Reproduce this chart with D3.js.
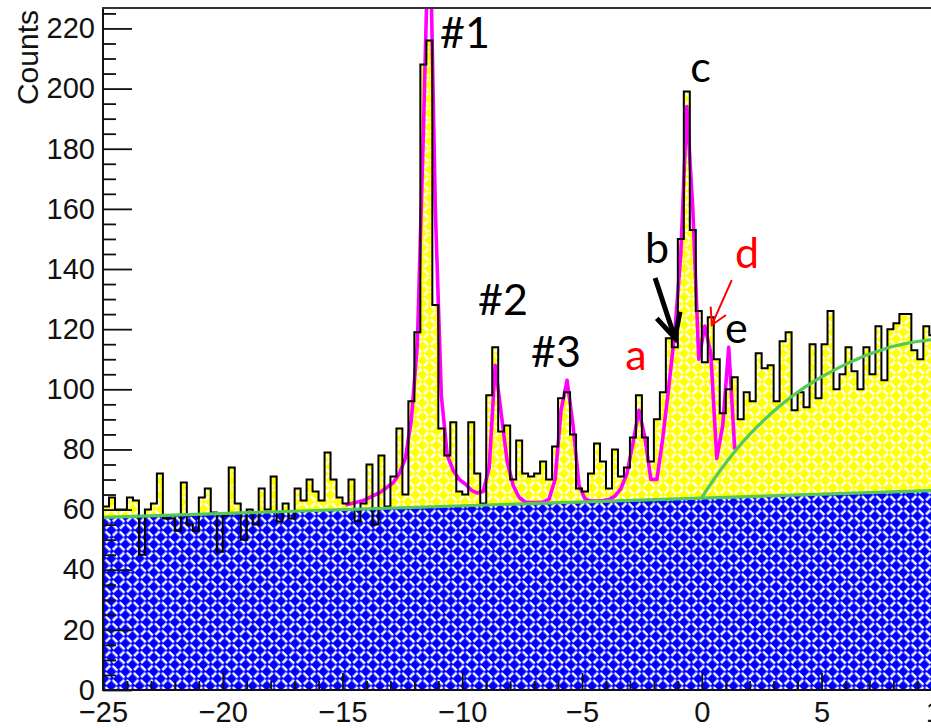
<!DOCTYPE html>
<html>
<head>
<meta charset="utf-8">
<script src="https://cdn.jsdelivr.net/npm/d3@7"></script>
<style>
  html, body { margin: 0; padding: 0; background: #fff; overflow: hidden; }
  svg { display: block; }
</style>
</head>
<body>
<svg id="chart" width="931" height="728"></svg>
<script>
// ---- Histogram binning ----
const xMin = -25, xMax = 10, binWidth = 0.25;
const yTop = 226.8;

// Counts per bin (140 bins of 0.25)
const counts = [
  61, 64, 60, 60, 64, 63, 45, 60, 62, 72,
  57, 57, 53, 69, 55, 53, 64, 67, 59, 46,
  58, 74, 62, 50, 60, 55, 67, 60, 71, 56,
  62, 57, 67, 63, 70, 66, 63, 79, 70, 64,
  62, 70, 56, 62, 75, 55, 78, 61, 71, 87,
  65, 96, 119, 208, 216, 128, 87, 78, 89, 66,
  65, 89, 72, 62, 98, 114, 86, 88, 70, 83,
  72, 71, 72, 76, 70, 81, 97, 99, 85, 67,
  66, 72, 82, 76, 67, 80, 71, 74, 84, 98,
  84, 76, 90, 99, 117, 114, 150, 199, 153, 126,
  109, 124, 110, 92, 100, 104, 90, 99, 96, 112,
  107, 108, 96, 116, 119, 93, 99, 94, 115, 97,
  115, 126, 100, 105, 114, 106, 100, 114, 105, 121,
  103, 120, 122, 125, 125, 113, 110, 121, 118, 115
];

// Total peak fit, evaluated at bin centres starting from bin fitFirstBin
const fitFirstBin = 40;
const fitValues = [
  61.5, 62, 62.5, 63, 64, 65, 66, 67.5, 69, 72,
  77, 90, 115, 185, 265, 160, 98, 78, 73, 70,
  68.5, 66.5, 65.5, 66, 74, 108, 92, 76, 68, 64,
  62.5, 62.3, 62.3, 62.5, 63.5, 70, 93, 103, 88, 68,
  63.5, 62.8, 62.8, 63, 63.3, 64.5, 67, 72, 82, 93,
  84, 70, 70, 84, 101, 119, 145, 194, 160, 110,
  121, 112, 77, 88, 114, 80
];

// Linear background fit (end points)
const bgX = [-25, 10];
const bgY = [57.4, 66.4];

// Threshold component of the background
const thrX = [0, 0.5, 1.0, 1.5, 2.0, 2.5, 3.0, 3.5, 4.0, 4.5, 5.0, 5.5, 6.0, 6.5, 7.0, 7.5, 8.0, 8.5, 9.0, 9.5, 10];
const thrY = [64, 70, 75.5, 80.5, 85, 89, 92.7, 96, 99, 101.7, 104.1, 106.3, 108.3, 110.1, 111.7, 113.1, 114.3, 115.2, 115.9, 116.4, 116.8];

// Axis ticks
const xTicks = [-25, -20, -15, -10, -5, 0, 5, 10];
const xMinorTicks = d3.range(-25, 11, 1).filter(v => v % 5 !== 0);
const yTicks = [0, 20, 40, 60, 80, 100, 120, 140, 160, 180, 200, 220];
const yMinorTicks = d3.range(0, 226, 5).filter(v => v % 20 !== 0);

// Peak labels (left edge x, baseline y, in data units)
const labelText  = ["#1", "#2", "#3", "a", "b", "c", "d", "e"];
const labelX     = [-10.93, -9.34, -7.13, -3.20, -2.37, -0.48, 1.39, 0.97];
const labelY     = [213.5, 124.7, 107.4, 106.4, 142.0, 202.2, 140.3, 115.4];
const labelColor = ["#000", "#000", "#000", "#f00", "#000", "#000", "#f00", "#000"];

// Pointer arrows: shaft start, tip, two barb ends (data units)
const arrowB = { from: [-1.95, 137], tip: [-1.12, 117], barbs: [[-1.88, 123.6], [-0.91, 125.8]] };
const arrowD = { from: [1.25, 136.3], tip: [0.42, 121.4], barbs: [[0.37, 127.5], [1.01, 124.7]] };

// ---- Layout ----
const plotL = 103, plotR = 941.3, plotT = 8, plotB = 690;
const x = d3.scaleLinear().domain([xMin, xMax]).range([plotL, plotR]);
const y = d3.scaleLinear().domain([0, yTop]).range([plotB, plotT]);

const svg = d3.select("#chart");
const defs = svg.append("defs");

// Basket-weave hatch: white dashes on a coloured ground, turned 45 degrees
function weave(id, color) {
  const s = 10;
  const p = defs.append("pattern")
    .attr("id", id)
    .attr("patternUnits", "userSpaceOnUse")
    .attr("width", s).attr("height", s)
    .attr("patternTransform", "rotate(45)");
  p.append("rect").attr("width", s).attr("height", s).attr("fill", color);
  p.append("rect").attr("x", 0.4).attr("y", 0).attr("width", 6.8).attr("height", 2.4).attr("fill", "#fff");
  p.append("rect").attr("x", 7.4).attr("y", 2.8).attr("width", 2.4).attr("height", 6.2).attr("fill", "#fff");
}
weave("weaveYellow", "#ffff00");
weave("weaveBlue", "#0000ff");

defs.append("clipPath").attr("id", "plotClip")
  .append("rect")
  .attr("x", plotL).attr("y", plotT)
  .attr("width", plotR - plotL).attr("height", plotB - plotT);

const g = svg.append("g").attr("clip-path", "url(#plotClip)");

// Histogram as step points
const stepPts = counts.map((c, i) => [xMin + i * binWidth, c]);
stepPts.push([xMax, counts[counts.length - 1]]);

const area = d3.area()
  .x(d => x(d[0])).y0(y(0)).y1(d => y(d[1]))
  .curve(d3.curveStepAfter);
const line = d3.line()
  .x(d => x(d[0])).y(d => y(d[1]))
  .curve(d3.curveStepAfter);

// Data fill
g.append("path").datum(stepPts)
  .attr("d", area)
  .attr("fill", "url(#weaveYellow)");

// Background fill below the linear fit
const bgPoly = [[bgX[0], 0], [bgX[0], bgY[0]], [bgX[1], bgY[1]], [bgX[1], 0]];
g.append("path")
  .attr("d", d3.line().x(d => x(d[0])).y(d => y(d[1]))(bgPoly) + "Z")
  .attr("fill", "url(#weaveBlue)");

// Peak fit curve
const fitPts = fitValues.map((v, i) => [xMin + (fitFirstBin + i + 0.5) * binWidth, v]);
g.append("path").datum(fitPts)
  .attr("d", d3.line().x(d => x(d[0])).y(d => y(d[1])))
  .attr("fill", "none")
  .attr("stroke", "#ff00ff")
  .attr("stroke-width", 3.6)
  .attr("stroke-linejoin", "round");

// Data outline
g.append("path").datum(stepPts)
  .attr("d", line)
  .attr("fill", "none")
  .attr("stroke", "#000")
  .attr("stroke-width", 2);

// Background curves
const green = "#55c855";
g.append("path").datum(bgX.map((v, i) => [v, bgY[i]]))
  .attr("d", d3.line().x(d => x(d[0])).y(d => y(d[1])))
  .attr("fill", "none").attr("stroke", green).attr("stroke-width", 3.2);
g.append("path").datum(thrX.map((v, i) => [v, thrY[i]]))
  .attr("d", d3.line().x(d => x(d[0])).y(d => y(d[1])).curve(d3.curveMonotoneX))
  .attr("fill", "none").attr("stroke", green).attr("stroke-width", 3.2);

// ---- Axes ----
const axisFont = "'Liberation Sans', Arial, sans-serif";
const axisColor = "#111";

const yAxis = svg.append("g").attr("transform", `translate(${plotL},0)`)
  .call(d3.axisLeft(y).tickValues(yTicks).tickSize(-29).tickPadding(8).tickFormat(d3.format("d")));
const yMinor = svg.append("g").attr("transform", `translate(${plotL},0)`)
  .call(d3.axisLeft(y).tickValues(yMinorTicks).tickSize(-13).tickFormat(""));
const xAxis = svg.append("g").attr("transform", `translate(0,${plotB})`)
  .call(d3.axisBottom(x).tickValues(xTicks).tickSize(-17).tickPadding(11).tickFormat(d3.format("d")));
const xMinor = svg.append("g").attr("transform", `translate(0,${plotB})`)
  .call(d3.axisBottom(x).tickValues(xMinorTicks).tickSize(-9).tickFormat(""));

[yAxis, yMinor, xAxis, xMinor].forEach(a => {
  a.select(".domain").remove();
  a.selectAll(".tick line").attr("stroke", axisColor).attr("stroke-width", 1.8);
  a.selectAll(".tick text")
    .attr("fill", "#111")
    .style("font-family", axisFont)
    .style("font-size", "29px");
});

// Frame lines
svg.append("line").attr("x1", plotL).attr("x2", plotL).attr("y1", plotT - 1).attr("y2", plotB + 1)
  .attr("stroke", axisColor).attr("stroke-width", 2);
svg.append("line").attr("x1", plotL - 1).attr("x2", plotR).attr("y1", plotB).attr("y2", plotB)
  .attr("stroke", axisColor).attr("stroke-width", 2);
svg.append("line").attr("x1", plotL - 1).attr("x2", plotR).attr("y1", plotT).attr("y2", plotT)
  .attr("stroke", "#333").attr("stroke-width", 2);

// Axis title
svg.append("text")
  .attr("transform", "translate(38,10) rotate(-90)")
  .attr("text-anchor", "end")
  .style("font-family", axisFont)
  .style("font-size", "30px")
  .attr("fill", "#111")
  .text("Counts");

// ---- Annotations ----
const annoFont = "Lato, 'Open Sans', sans-serif";
svg.selectAll("text.peak")
  .data(labelText)
  .join("text")
  .attr("class", "peak")
  .attr("x", (d, i) => x(labelX[i]))
  .attr("y", (d, i) => y(labelY[i]))
  .attr("fill", (d, i) => labelColor[i])
  .style("font-family", annoFont)
  .style("font-size", "43px")
  .text(d => d);

function drawArrow(a, color, width) {
  const p = d3.path();
  p.moveTo(x(a.from[0]), y(a.from[1]));
  p.lineTo(x(a.tip[0]), y(a.tip[1]));
  p.moveTo(x(a.barbs[0][0]), y(a.barbs[0][1]));
  p.lineTo(x(a.tip[0]), y(a.tip[1]));
  p.lineTo(x(a.barbs[1][0]), y(a.barbs[1][1]));
  svg.append("path").attr("d", p.toString())
    .attr("fill", "none").attr("stroke", color)
    .attr("stroke-width", width)
    .attr("stroke-linecap", "butt").attr("stroke-linejoin", "miter");
}
drawArrow(arrowB, "#000", 5);
drawArrow(arrowD, "#f00", 2);
</script>
</body>
</html>
